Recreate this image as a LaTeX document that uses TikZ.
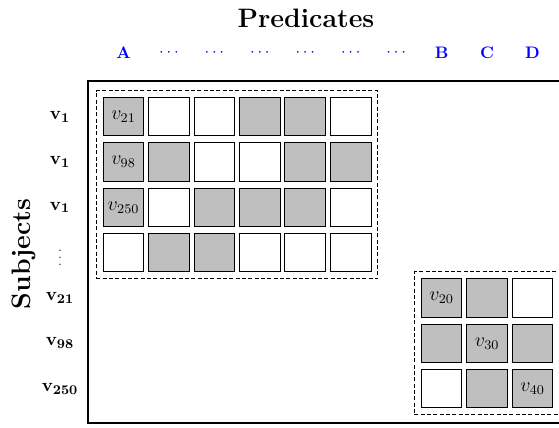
\documentclass[tikz,border=0pt]{standalone}
\usetikzlibrary{fit,positioning}

\begin{document}
\begin{tikzpicture}[x=0.6pt,y=-0.6pt,
	cell/.style={draw=black,line width=0.6pt,minimum width=24.4pt,minimum height=23pt,inner sep=0pt,font=\large},
	on/.style={cell,fill=gray!50},
	off/.style={cell,fill=white},
	block/.style={draw=black,dash pattern=on 2.4pt off 1.4pt,line width=0.6pt,inner sep=3.8pt},
	title/.style={font=\fontsize{16}{19}\selectfont\bfseries},
	pred/.style={text=blue,font=\bfseries},
	subj/.style={font=\fontsize{11}{13}\selectfont,inner sep=0pt}]

	\useasboundingbox (0,0) rectangle (559,428);

	% titles
	\node[title] (ptitle) at (306,18) {Predicates};
	\node[title,rotate=90] (stitle) at (24,254) {Subjects};

	% predicate labels along the top
	\foreach \lab [count=\i from 0] in {A,$\cdots$,$\cdots$,$\cdots$,$\cdots$,$\cdots$,$\cdots$,B,C,D}
		\node[pred] (p\i) at (123.5+45.45*\i,53) {\lab};

	% subject labels down the side
	\foreach \lab [count=\i from 0] in {$\mathbf{v_1}$,$\mathbf{v_1}$,$\mathbf{v_1}$,{\scriptsize$\vdots$},$\mathbf{v_{21}}$,$\mathbf{v_{98}}$,$\mathbf{v_{250}}$}
		\node[subj] (s\i) at (60,116.8+45.3*\i) {\lab};

	% outer frame
	\draw[line width=1pt] (88,81) rectangle (580,423);

	% first block of cells
	\foreach \r/\pat in {0/{on,off,off,on,on,off},1/{on,on,off,off,on,on},
			2/{on,off,on,on,on,off},3/{off,on,on,off,off,off}}
		\foreach \st [count=\c from 0] in \pat
			\node[\st] (c-\r-\c) at (123.5+45.45*\c,116.8+45.3*\r) {};

	% second block of cells
	\foreach \r/\pat in {4/{on,on,off},5/{on,on,on},6/{off,on,on}}
		\foreach \st [count=\c from 7] in \pat
			\node[\st] (c-\r-\c) at (123.5+45.45*\c,116.8+45.3*\r) {};

	\node[font=\large] at (c-0-0) {$v_{21}$};
	\node[font=\large] at (c-1-0) {$v_{98}$};
	\node[font=\large] at (c-2-0) {$v_{250}$};
	\node[font=\large] at (c-4-7) {$v_{20}$};
	\node[font=\large] at (c-5-8) {$v_{30}$};
	\node[font=\large] at (c-6-9) {$v_{40}$};

	% dashed groups
	\node[block,fit=(c-0-0)(c-3-5)] (top) {};
	\node[block,fit=(c-4-7)(c-6-9)] (bottom) {};
\end{tikzpicture}
\end{document}
